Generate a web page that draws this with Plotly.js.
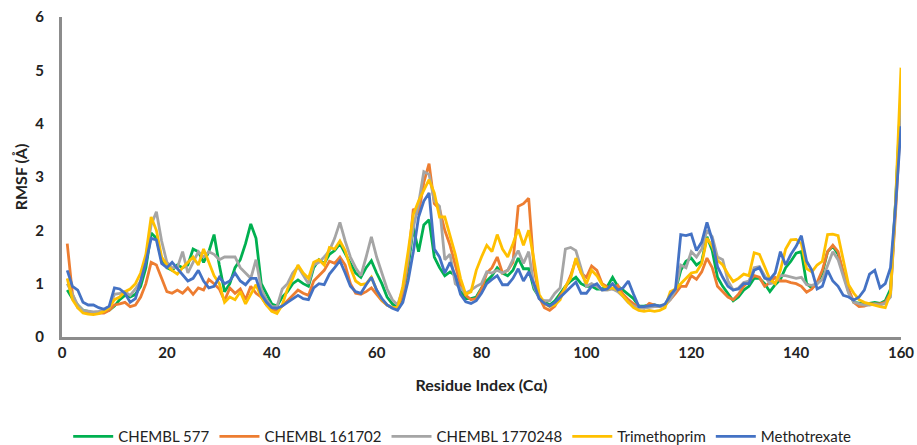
<!DOCTYPE html>
<html>
<head>
<meta charset="utf-8">
<script src="https://cdn.plot.ly/plotly-3.0.1.min.js"></script>
<style>html,body{margin:0;padding:0;background:#fff;}#chart{width:917px;height:445px;}</style>
</head>
<body>
<div id="chart"></div>
<script>
// Residue indices 1..160
const residues = Array.from({length: 160}, (_, k) => k + 1);
const xTicks = [0, 20, 40, 60, 80, 100, 120, 140, 160];
const yTicks = [0, 1, 2, 3, 4, 5, 6];

const seriesNames = ["CHEMBL 577", "CHEMBL 161702", "CHEMBL 1770248", "Trimethoprim", "Methotrexate"];

const chembl577 = [
 0.88,0.72,0.6,0.5,0.48,0.45,0.45,0.47,0.5,0.58,0.7,0.78,0.75,0.8,0.95,1.3,1.95,1.85,1.45,1.3,
 1.25,1.35,1.3,1.35,1.65,1.6,1.4,1.6,1.92,1.35,0.85,1.0,1.3,1.45,1.75,2.12,1.85,1.0,0.8,0.62,
 0.58,0.75,0.85,1.0,1.07,1.0,0.95,1.3,1.45,1.38,1.55,1.62,1.75,1.55,1.38,1.2,1.12,1.3,1.43,1.2,
 1.0,0.75,0.62,0.55,0.75,1.3,2.05,1.6,2.1,2.2,1.5,1.3,1.15,1.22,1.15,0.85,0.72,0.72,0.75,0.92,
 1.05,1.15,1.3,1.2,1.15,1.25,1.48,1.28,1.28,0.9,0.75,0.66,0.6,0.68,0.82,0.95,1.05,1.12,1.0,0.95,
 0.95,0.9,0.9,0.95,1.12,0.95,0.88,0.8,0.72,0.58,0.58,0.6,0.6,0.58,0.6,0.75,0.88,1.25,1.42,1.48,
 1.35,1.42,1.88,1.62,1.12,0.95,0.82,0.68,0.75,0.88,0.95,1.1,1.1,1.0,0.85,0.98,1.08,1.3,1.42,1.57,
 1.6,1.0,0.92,1.0,1.2,1.6,1.7,1.55,1.2,0.85,0.65,0.63,0.62,0.63,0.65,0.63,0.68,0.9,2.6,4.62
];
const chembl161702 = [
 1.75,0.8,0.55,0.47,0.45,0.45,0.45,0.45,0.5,0.6,0.62,0.65,0.57,0.6,0.75,1.0,1.4,1.35,1.1,0.85,
 0.82,0.88,0.82,0.92,0.8,0.92,0.88,1.08,1.0,0.9,0.68,0.92,0.82,0.9,0.7,0.95,0.82,0.75,0.6,0.5,
 0.5,0.58,0.68,0.78,0.88,0.82,0.78,1.05,1.15,1.25,1.42,1.38,1.5,1.35,1.0,0.82,0.8,0.85,0.92,0.8,
 0.68,0.6,0.55,0.55,0.8,1.4,2.4,2.3,2.9,3.25,2.5,2.4,2.0,1.72,1.35,0.98,0.78,0.7,0.72,0.9,
 1.2,1.3,1.5,1.2,1.25,1.4,2.45,2.5,2.6,1.3,0.75,0.55,0.5,0.58,0.78,0.92,1.15,1.45,1.2,1.12,
 1.33,1.25,1.0,0.94,0.9,0.97,0.8,0.7,0.62,0.57,0.54,0.63,0.6,0.57,0.6,0.7,0.82,0.95,0.95,1.15,
 1.08,1.22,1.48,1.3,0.95,0.84,0.75,0.7,0.8,0.95,1.05,1.15,1.12,0.95,1.02,1.12,1.05,1.05,1.02,1.0,
 0.95,0.84,0.9,1.02,1.25,1.6,1.72,1.6,1.2,0.9,0.65,0.57,0.58,0.62,0.62,0.62,0.65,0.82,2.4,4.22
];
const chembl1770248 = [
 1.0,0.8,0.6,0.5,0.48,0.47,0.48,0.5,0.55,0.8,0.82,0.85,0.78,0.9,1.05,1.5,2.1,2.35,1.8,1.4,
 1.3,1.3,1.6,1.2,1.4,1.6,1.5,1.6,1.55,1.45,1.5,1.5,1.5,1.3,1.2,1.1,1.45,0.9,0.7,0.57,
 0.57,0.9,1.0,1.2,1.32,1.15,1.0,1.35,1.4,1.5,1.62,1.85,2.15,1.8,1.5,1.3,1.15,1.5,1.88,1.5,
 1.2,0.9,0.7,0.6,0.9,1.45,2.05,2.5,3.1,3.05,2.55,2.45,1.45,1.55,1.0,0.92,0.82,0.88,0.95,1.0,
 1.22,1.2,1.25,1.2,1.25,1.45,1.62,1.38,1.6,0.95,0.72,0.68,0.68,0.82,0.92,1.65,1.68,1.62,1.3,0.95,
 1.0,0.95,0.88,0.88,0.9,0.85,0.76,0.65,0.58,0.54,0.54,0.56,0.57,0.57,0.6,0.7,0.88,1.35,1.3,1.6,
 1.5,1.65,2.0,1.88,1.5,1.45,1.05,0.88,0.92,1.02,1.05,1.3,1.32,1.15,1.0,1.02,1.15,1.15,1.12,1.1,
 1.12,0.98,0.97,1.0,1.08,1.35,1.6,1.45,1.12,0.82,0.65,0.62,0.6,0.6,0.62,0.6,0.63,0.75,2.5,4.42
];
const trimethoprim = [
 1.1,0.7,0.55,0.45,0.43,0.42,0.44,0.48,0.55,0.7,0.75,0.85,0.9,1.0,1.2,1.55,2.25,2.0,1.5,1.35,
 1.25,1.18,1.3,1.4,1.5,1.35,1.65,1.4,1.15,1.0,0.65,0.75,0.7,0.85,0.62,0.8,0.98,0.75,0.6,0.48,
 0.44,0.6,0.9,1.1,1.35,1.2,1.1,1.4,1.45,1.35,1.68,1.65,1.8,1.62,1.3,1.05,0.98,1.0,1.12,0.88,
 0.7,0.6,0.55,0.55,0.95,1.6,2.3,2.55,2.75,2.95,2.7,2.25,2.25,1.88,1.55,1.1,0.8,0.85,1.25,1.5,
 1.72,1.6,1.92,1.65,1.5,1.75,2.02,1.72,2.0,1.45,0.8,0.63,0.57,0.6,0.7,0.95,1.1,1.48,1.2,1.0,
 1.25,1.15,0.98,0.9,0.92,0.88,0.76,0.65,0.55,0.5,0.48,0.5,0.48,0.5,0.55,0.85,0.9,1.0,1.1,1.2,
 1.22,1.38,1.85,1.7,1.44,1.35,1.18,1.04,1.1,1.18,1.15,1.58,1.55,1.3,1.08,1.0,1.25,1.65,1.82,1.83,
 1.75,1.28,1.22,1.35,1.42,1.92,1.93,1.9,1.45,0.98,0.82,0.7,0.65,0.62,0.6,0.57,0.55,0.82,2.6,5.05
];
const methotrexate = [
 1.25,0.95,0.88,0.65,0.6,0.6,0.55,0.52,0.58,0.92,0.9,0.82,0.65,0.72,1.05,1.4,1.85,1.82,1.38,1.3,
 1.4,1.28,1.15,1.05,1.1,1.25,1.05,0.92,0.95,1.12,1.0,1.05,1.2,1.05,0.98,1.1,1.1,0.8,0.65,0.55,
 0.54,0.58,0.65,0.72,0.78,0.72,0.7,0.92,1.0,0.98,1.18,1.3,1.43,1.2,0.95,0.85,0.82,0.98,1.12,0.88,
 0.72,0.6,0.54,0.5,0.65,1.05,1.6,2.25,2.55,2.7,1.65,1.5,1.2,1.4,1.15,0.8,0.66,0.63,0.68,0.82,
 1.0,1.08,1.15,0.98,0.98,1.1,1.28,1.05,1.22,1.0,0.72,0.63,0.58,0.65,0.75,0.85,0.94,1.03,0.82,0.82,
 0.95,1.0,0.88,0.9,1.0,0.88,0.92,1.05,0.8,0.57,0.57,0.58,0.6,0.58,0.62,0.78,0.9,1.92,1.9,1.93,
 1.62,1.78,2.15,1.82,1.32,1.12,0.95,0.88,0.9,1.0,1.0,1.25,1.3,1.1,1.08,1.2,1.6,1.35,1.55,1.7,
 1.9,1.42,1.25,0.9,0.95,1.25,1.05,0.95,0.78,0.75,0.69,0.75,0.88,1.18,1.25,0.92,1.0,1.3,2.5,3.95
];

const seriesValues = [chembl577, chembl161702, chembl1770248, trimethoprim, methotrexate];
const seriesColors = ["#00B050", "#ED7D31", "#A5A5A5", "#FFC000", "#4472C4"];

const traces = seriesValues.map((vals, k) => ({
  type: "scatter",
  mode: "lines",
  name: seriesNames[k],
  x: residues,
  y: vals,
  line: {color: seriesColors[k], width: 2.8}
}));

const fontFam = "Lato, 'Open Sans', sans-serif";
const axisCommon = {
  showline: true, linecolor: "#8c8c8c", linewidth: 3,
  showgrid: false, zeroline: false, ticks: "",
  tickfont: {family: fontFam, size: 15, color: "#222", weight: "bold"},
  automargin: false
};

const layout = {
  width: 917, height: 445,
  margin: {l: 62, r: 16, t: 17, b: 108},
  paper_bgcolor: "#fff", plot_bgcolor: "#fff",
  font: {family: fontFam},
  xaxis: Object.assign({}, axisCommon, {
    range: [0, 160], tickvals: xTicks, ticktext: xTicks.map(String),
    ticklabelstandoff: 0,
    title: {text: "Residue Index (Cα)", font: {family: fontFam, size: 16, color: "#222", weight: "bold"}, standoff: 20}
  }),
  yaxis: Object.assign({}, axisCommon, {
    range: [0, 6], tickvals: yTicks, ticktext: yTicks.map(String),
    ticklabelstandoff: 12,
    title: {text: "RMSF (Å)", font: {family: fontFam, size: 16, color: "#222", weight: "bold"}, standoff: 4}
  }),
  showlegend: true,
  legend: {
    orientation: "h", x: 0.477, xanchor: "center",
    yref: "container", y: 0.056, yanchor: "top",
    font: {family: fontFam, size: 15, color: "#222"},
    itemwidth: 40, traceorder: "normal"
  }
};

Plotly.newPlot("chart", traces, layout, {displayModeBar: false, staticPlot: true});
</script>
</body>
</html>
